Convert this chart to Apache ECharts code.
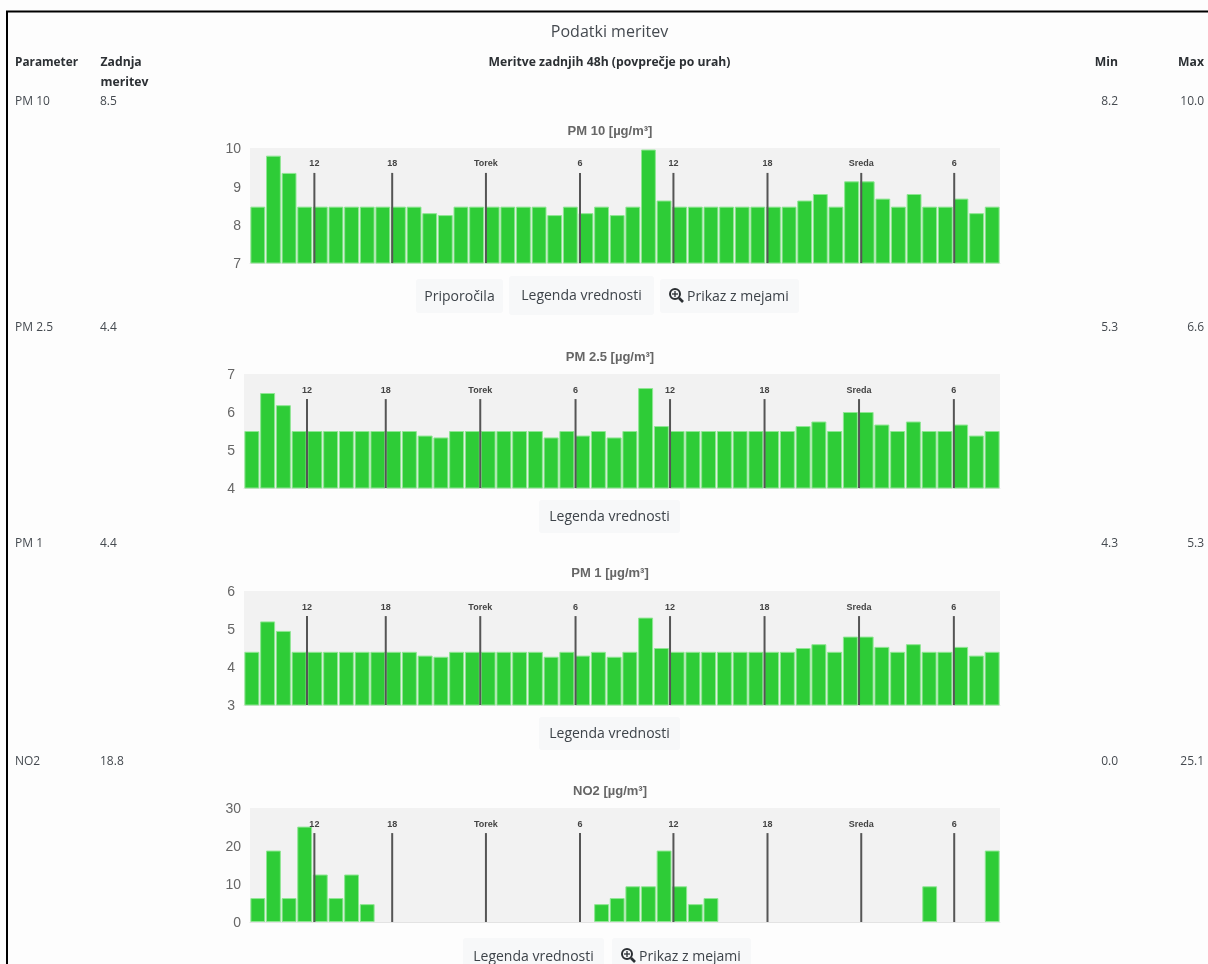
<!DOCTYPE html>
<html><head><meta charset="utf-8">
<style>html,body{margin:0;padding:0;background:#fdfdfd;overflow:hidden}#c{width:1208px;height:964px}</style>
<script src="https://cdn.jsdelivr.net/npm/echarts@6/dist/echarts.min.js"></script>
</head><body><div id="c"></div>
<script>
const hourLabels = ['12','18','Torek','6','12','18','Sreda','6'];
const hourPositionsA = [4.12,9.1,15.1,21.12,27.1,33.12,39.12,45.07];
const hourPositionsB = [4,9,15,21.05,27.05,33.05,39.05,45.07];
const categories = Array.from({length:48},(_,i)=>String(i));

const pm10 = [8.47,9.8,9.35,8.47,8.47,8.47,8.47,8.47,8.47,8.47,8.47,8.3,8.25,8.47,8.47,8.47,8.47,8.47,8.47,8.25,8.47,8.3,8.47,8.25,8.47,9.96,8.63,8.47,8.47,8.47,8.47,8.47,8.47,8.47,8.47,8.63,8.8,8.47,9.13,9.13,8.68,8.47,8.8,8.47,8.47,8.68,8.3,8.47];
const pm25 = [5.5,6.5,6.18,5.5,5.5,5.5,5.5,5.5,5.5,5.5,5.5,5.38,5.33,5.5,5.5,5.5,5.5,5.5,5.5,5.33,5.5,5.38,5.5,5.33,5.5,6.63,5.63,5.5,5.5,5.5,5.5,5.5,5.5,5.5,5.5,5.63,5.75,5.5,6,6,5.67,5.5,5.75,5.5,5.5,5.67,5.38,5.5];
const pm1 = [4.4,5.2,4.95,4.4,4.4,4.4,4.4,4.4,4.4,4.4,4.4,4.3,4.27,4.4,4.4,4.4,4.4,4.4,4.4,4.27,4.4,4.3,4.4,4.27,4.4,5.3,4.5,4.4,4.4,4.4,4.4,4.4,4.4,4.4,4.4,4.5,4.6,4.4,4.8,4.8,4.53,4.4,4.6,4.4,4.4,4.53,4.3,4.4];
const no2 = [6.3,18.8,6.3,25.1,12.5,6.3,12.5,4.7,0,0,0,0,0,0,0,0,0,0,0,0,0,0,4.7,6.3,9.4,9.4,18.8,9.4,4.7,6.3,0,0,0,0,0,0,0,0,0,0,0,0,0,9.4,0,0,0,18.8];

const chartTitles = ['PM 10 [µg/m³]','PM 2.5 [µg/m³]','PM 1 [µg/m³]','NO2 [µg/m³]'];
const axisMin = [7,4,3,0];
const axisMax = [10,7,6,30];
const axisStep = [1,1,1,10];
const lineTop = [9.35,6.34,5.34,23.4];
const rowNames = ['PM 10','PM 2.5','PM 1','NO2'];
const rowLast = ['8.5','4.4','4.4','18.8'];
const rowMin = ['8.2','5.3','4.3','0.0'];
const rowMax = ['10.0','6.6','5.3','25.1'];
const seriesValues = [pm10,pm25,pm1,no2];
const linePositions = [hourPositionsA,hourPositionsB,hourPositionsB,hourPositionsA];

const UI = '"Open Sans","Noto Sans",sans-serif';
const CH = '"Liberation Sans",Arial,sans-serif';
const layout = [
 {left:250,top:148,h:115,titleY:131,rowY:102},
 {left:244,top:374,h:114,titleY:357,rowY:328},
 {left:244,top:591,h:114,titleY:573,rowY:544},
 {left:250,top:808,h:114,titleY:791,rowY:762}
];
const grids=[],xAxes=[],yAxes=[],series=[],titles=[],g=[];
function txt(x,y,t,o){g.push({type:'text',x,y,silent:true,style:Object.assign({text:t,font:'12px '+UI,fill:'#454a50',textVerticalAlign:'middle',textAlign:'left'},o||{})});}
function btn(x,y,w,h,t,icon){
  g.push({type:'rect',shape:{x,y,width:w,height:h,r:3},style:{fill:'#f7f8f9'},silent:true});
  const tx = icon ? x+27 : x+w/2;
  txt(tx,y+h/2+1,t,{font:'14px '+UI,fill:'#3d4349',textAlign:icon?'left':'center'});
  if(icon){
    const cx=x+15,cy=y+h/2-2;
    g.push({type:'circle',shape:{cx,cy,r:5},style:{fill:'none',stroke:'#2b2f33',lineWidth:2},silent:true});
    g.push({type:'line',shape:{x1:cx+4,y1:cy+4,x2:cx+8,y2:cy+8},style:{stroke:'#2b2f33',lineWidth:2.6},silent:true});
    g.push({type:'line',shape:{x1:cx-3,y1:cy,x2:cx+3,y2:cy},style:{stroke:'#2b2f33',lineWidth:1.3},silent:true});
    g.push({type:'line',shape:{x1:cx,y1:cy-3,x2:cx,y2:cy+3},style:{stroke:'#2b2f33',lineWidth:1.3},silent:true});
  }
}
seriesValues.forEach((vals,i)=>{
  const L=layout[i];
  grids.push({left:L.left,top:L.top,width:1000-L.left,height:L.h,show:true,backgroundColor:'#f2f2f2',borderWidth:0,containLabel:false});
  xAxes.push({type:'category',gridIndex:i,data:categories,axisLabel:{show:false},axisTick:{show:false},axisLine:{show:true,lineStyle:{color:'#e3e3e3'}},splitLine:{show:false}});
  xAxes.push({type:'value',gridIndex:i,min:0,max:48,show:false,splitLine:{show:false}});
  yAxes.push({type:'value',gridIndex:i,min:axisMin[i],max:axisMax[i],interval:axisStep[i],axisLine:{show:false},axisTick:{show:false},splitLine:{show:false},
    axisLabel:{margin:9,formatter:'{a|{value}}',rich:{a:{color:'#666',fontSize:14,fontFamily:CH,padding:[3,0,0,0]}}}});
  series.push({type:'bar',xAxisIndex:i*2,yAxisIndex:i,barCategoryGap:'5%',silent:true,animation:false,
    data:vals.map(v=>v===0?{value:v,itemStyle:{borderWidth:0,opacity:0}}:v),
    itemStyle:{color:'#2ecc37',borderColor:'#8fe693',borderWidth:1}});
  series.push({type:'custom',xAxisIndex:i*2+1,yAxisIndex:i,clip:false,silent:true,animation:false,
    data:linePositions[i].map(p=>[p,lineTop[i]]),encode:{x:0,y:1},z:5,
    renderItem:(params,api)=>{
      const t=api.coord([api.value(0),api.value(1)]);
      const b=api.coord([api.value(0),axisMin[i]]);
      return {type:'group',children:[
        {type:'line',shape:{x1:t[0],y1:t[1],x2:b[0],y2:b[1]},style:{stroke:'#555',lineWidth:2}},
        {type:'text',style:{x:t[0],y:t[1]-9,text:hourLabels[params.dataIndex],font:'bold 9px '+CH,fill:'#444',textAlign:'center',textVerticalAlign:'middle'}}
      ]};
    }});
  titles.push({text:chartTitles[i],left:610,top:L.titleY,textAlign:'center',textVerticalAlign:'middle',textStyle:{fontFamily:CH,fontWeight:'bold',fontSize:13,color:'#666'},padding:0});
  txt(15,L.rowY,rowNames[i]);
  txt(100,L.rowY,rowLast[i]);
  txt(1118,L.rowY,rowMin[i],{textAlign:'right'});
  txt(1204,L.rowY,rowMax[i],{textAlign:'right'});
});
// frame
g.push({type:'line',shape:{x1:6,y1:11.5,x2:1208,y2:11.5},style:{stroke:'#000',lineWidth:2},silent:true});
g.push({type:'line',shape:{x1:7,y1:11,x2:7,y2:964},style:{stroke:'#000',lineWidth:2},silent:true});
// headings
txt(609.5,32,'Podatki meritev',{font:'16px '+UI,textAlign:'center'});
const H={font:'bold 12.2px '+UI,fill:'#2c3034'};
txt(15,63,'Parameter',Object.assign({},H,{font:'bold 11.8px '+UI}));
txt(100.5,63,'Zadnja',H);
txt(100.5,83,'meritev',H);
txt(609.5,63,'Meritve zadnjih 48h (povprečje po urah)',Object.assign({},H,{textAlign:'center'}));
txt(1118,63,'Min',Object.assign({},H,{textAlign:'right'}));
txt(1204,63,'Max',Object.assign({},H,{textAlign:'right'}));
// buttons
btn(416,279,87,34,'Priporočila');
btn(509,276,145,39,'Legenda vrednosti');
btn(660,279,139,34,'Prikaz z mejami',true);
btn(539,500,141,33,'Legenda vrednosti');
btn(539,717,141,33,'Legenda vrednosti');
btn(463,938,141,36,'Legenda vrednosti');
btn(612,938,139,36,'Prikaz z mejami',true);

const chart=echarts.init(document.getElementById('c'),null,{renderer:'canvas',width:1208,height:964});
chart.setOption({animation:false,backgroundColor:'#fdfdfd',title:titles,grid:grids,xAxis:xAxes,yAxis:yAxes,series,graphic:{elements:g},tooltip:{show:false}});
</script></body></html>
